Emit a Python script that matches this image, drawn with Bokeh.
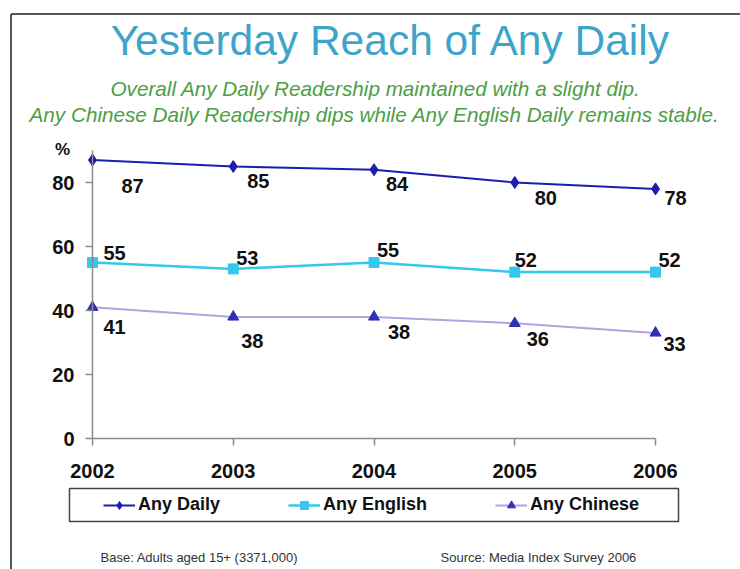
from bokeh.plotting import figure
from bokeh.models import (ColumnDataSource, FixedTicker, Legend, LegendItem, Range1d)
from bokeh.core.properties import value
from bokeh.embed import file_html
from bokeh.resources import INLINE

# ---------------- data ----------------
years = [2002, 2003, 2004, 2005, 2006]
any_daily = [87, 85, 84, 80, 78]
any_english = [55, 53, 55, 52, 52]
any_chinese = [41, 38, 38, 36, 33]
y_ticks = [0, 20, 40, 60, 80]

title_text = "Yesterday Reach of Any Daily"
sub1 = "Overall Any Daily Readership maintained with a slight dip."
sub2 = "Any Chinese Daily Readership dips while Any English Daily remains stable."
base_text = "Base: Adults aged 15+ (3371,000)"
source_text = "Source: Media Index Survey 2006"

# label offsets (px) relative to each point (layout only)
daily_dx = [40, 25, 23, 31, 20]
daily_dy = [26, 14, 14, 15, 9]
eng_dx = [22, 14, 14, 11, 14]
eng_dy = [-10, -11, -13, -12, -12]
chi_dx = [22, 19, 25, 23, 19]
chi_dy = [20, 24, 15, 16, 11]

# ---------------- geometry ----------------
W, H = 740, 569
PX = 140.75   # px per year
PY = 3.2      # px per percent
X0 = 92       # x pixel of 2002
Y0 = 438      # y pixel (from top) of 0

def fx(px):
    return 2002 + (px - X0) / PX

def fy(py):
    return (Y0 - py) / PY

FONT = "Liberation Sans"

p = figure(width=W, height=H, output_backend="svg", toolbar_location=None,
           x_range=Range1d(fx(0), fx(W)), y_range=Range1d(fy(H), fy(0)),
           min_border=0, min_border_left=0, min_border_right=0,
           min_border_top=0, min_border_bottom=0)
p.outline_line_color = None
p.grid.visible = False
p.background_fill_color = "white"
p.border_fill_color = "white"

# axes
xa = p.xaxis[0]
xa.fixed_location = 0
xa.bounds = (2002, 2006)
xa.ticker = FixedTicker(ticks=years)
xa.minor_tick_line_color = None
xa.major_tick_in = 0
xa.major_tick_out = 7
xa.major_label_standoff = 18
xa.axis_line_color = "#8a8a8a"
xa.axis_line_width = 1.5
xa.major_tick_line_color = "#8a8a8a"
xa.major_tick_line_width = 1.5
xa.major_label_text_font = FONT
xa.major_label_text_font_size = "20px"
xa.major_label_text_font_style = "bold"
xa.major_label_text_color = "#111111"

ya = p.yaxis[0]
ya.fixed_location = 2002
ya.bounds = (0, 90)
ya.ticker = FixedTicker(ticks=y_ticks)
ya.minor_tick_line_color = None
ya.major_tick_in = 0
ya.major_tick_out = 7
ya.major_label_standoff = 11
ya.axis_line_color = "#8a8a8a"
ya.axis_line_width = 1.5
ya.major_tick_line_color = "#8a8a8a"
ya.major_tick_line_width = 1.5
ya.major_label_text_font = FONT
ya.major_label_text_font_size = "20px"
ya.major_label_text_font_style = "bold"
ya.major_label_text_color = "#111111"

# outer frame lines
p.segment(x0=[fx(10.5), fx(10.5)], y0=[fy(13.5), fy(13.5)],
          x1=[fx(900), fx(10.5)], y1=[fy(13.5), fy(900)],
          line_color="#555555", line_width=2)

# legend box
p.quad(left=[fx(69)], right=[fx(678)], top=[fy(488)], bottom=[fy(521)],
       fill_color=None, line_color="#444444", line_width=1.5)

# series
C_DAILY = "#1c1cb0"
C_ENG = "#33c8ec"
C_CHI_LINE = "#b4a2e0"
C_CHI_MK = "#3030b4"

l1 = p.line(years, any_daily, line_color=C_DAILY, line_width=2)
m1 = p.scatter(years, any_daily, marker="diamond", size=12, fill_color=C_DAILY, line_color=C_DAILY)
l2 = p.line(years, any_english, line_color=C_ENG, line_width=2.5)
m2 = p.scatter(years, any_english, marker="square", size=10, fill_color=C_ENG, line_color=C_ENG)
l3 = p.line(years, any_chinese, line_color=C_CHI_LINE, line_width=2)
m3 = p.scatter(years, any_chinese, marker="triangle", size=11, fill_color=C_CHI_MK, line_color=C_CHI_MK)

# data labels
for vals, dx, dy in ((any_daily, daily_dx, daily_dy),
                     (any_english, eng_dx, eng_dy),
                     (any_chinese, chi_dx, chi_dy)):
    src = ColumnDataSource(dict(x=years, y=vals, t=[str(v) for v in vals], dx=dx, dy=dy))
    p.text(x="x", y="y", text="t", x_offset="dx", y_offset="dy", source=src,
           text_font=value(FONT), text_font_size="20px", text_font_style="bold",
           text_color="#111111", text_align="center", text_baseline="middle")

# titles and other texts
def txt(x, y, s, size, color, style="normal", align="center"):
    p.text(x=[x], y=[y], text=[s], text_font=value(FONT), text_font_size=size,
           text_font_style=style, text_color=color, text_align=align,
           text_baseline="alphabetic")

txt(fx(390.5), fy(40), title_text, "42.5px", "#3fa4c9")
txt(fx(375), fy(88), sub1, "20.7px", "#4c9e46", style="italic")
txt(fx(374), fy(113.5), sub2, "20.7px", "#4c9e46", style="italic")
txt(fx(62), fy(149), "%", "17px", "#111111", style="bold")
txt(fx(100), fy(557), base_text, "13px", "#333333", align="left")
txt(fx(440), fy(557), source_text, "13px", "#333333", align="left")

# legend
legend = Legend(items=[LegendItem(label="Any Daily", renderers=[l1, m1]),
                       LegendItem(label="Any English", renderers=[l2, m2]),
                       LegendItem(label="Any Chinese", renderers=[l3, m3])],
                orientation="horizontal", location=(103, H - 515),
                border_line_color=None, background_fill_alpha=0,
                padding=0, margin=0, spacing=68, glyph_width=32, glyph_height=20,
                label_standoff=3, label_height=20,
                label_text_font=FONT, label_text_font_size="18px",
                label_text_font_style="bold", label_text_color="#111111")
p.add_layout(legend)

open("out.html", "w").write(file_html(p, INLINE))
